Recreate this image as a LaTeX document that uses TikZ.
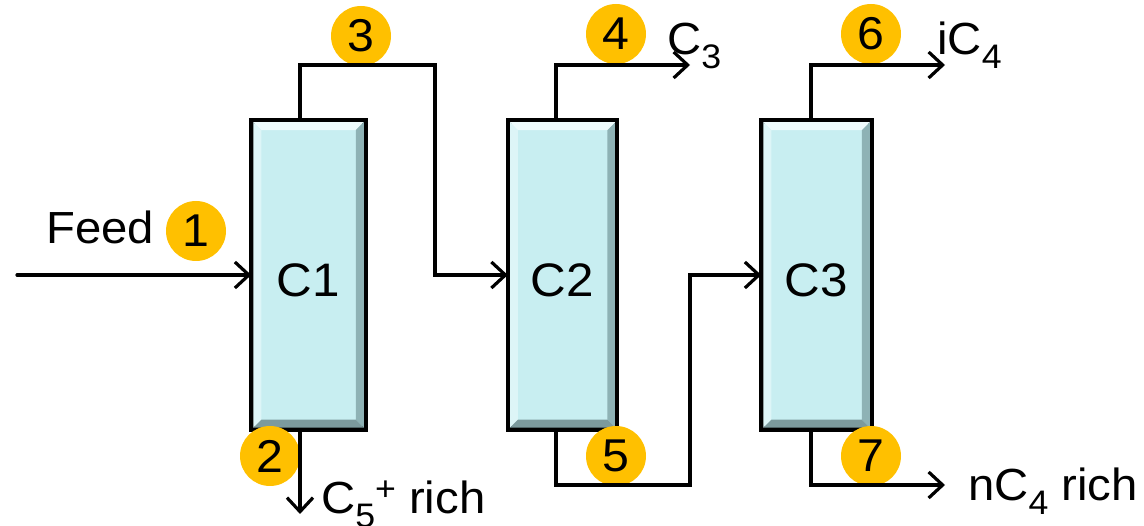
\documentclass[tikz,border=0pt]{standalone}
\usepackage{fontspec}
\setmainfont[FakeStretch=1.05]{Liberation Sans}
\usetikzlibrary{arrows.meta,calc}
\definecolor{colfill}{HTML}{C8EEF1}
\definecolor{bevtop}{HTML}{EEFBFC}
\definecolor{bevleft}{HTML}{DDF5F7}
\definecolor{bevright}{HTML}{8EB2B5}
\definecolor{bevbot}{HTML}{7C9A9D}
\definecolor{badge}{HTML}{FFC000}
\newcommand{\mysub}[1]{\raisebox{-0.3em}{\fontsize{34}{36}\selectfont #1}}
\newcommand{\mysup}[1]{\raisebox{0.3em}{\fontsize{34}{36}\selectfont #1}}
\tikzset{
  colbox/.style={rectangle, draw=black, line width=3.5pt, fill=colfill, inner sep=0pt,
    font=\fontsize{46}{50}\selectfont},
  badgec/.style={circle, fill=badge, minimum size=60pt, inner sep=0pt,
    font=\fontsize{46}{50}\selectfont},
  lbl/.style={inner sep=0pt, font=\fontsize{45}{50}\selectfont},
  flow/.style={line width=3.2pt, line cap=round, line join=miter},
  arr/.style={flow, -{Straight Barb[length=14pt,width=26pt]}}
}
\begin{document}
\begin{tikzpicture}[x=1pt,y=-1pt]
\useasboundingbox (0,0) rectangle (1144,526);
% columns
\node[colbox, minimum width=111pt, minimum height=306pt] (c1) at (308.5,275) {};
\node[colbox, minimum width=106pt, minimum height=306pt] (c2) at (562.5,275) {};
\node[colbox, minimum width=107pt, minimum height=306pt] (c3) at (816.5,275) {};
\foreach \n in {c1,c2,c3}{
  \coordinate (A) at ($(\n.north west)+(2,2)$);
  \coordinate (B) at ($(\n.north east)+(-2,2)$);
  \coordinate (C) at ($(\n.south east)+(-2,-2)$);
  \coordinate (D) at ($(\n.south west)+(2,-2)$);
  \coordinate (a) at ($(A)+(8,8)$);
  \coordinate (b) at ($(B)+(-8,8)$);
  \coordinate (c) at ($(C)+(-8,-8)$);
  \coordinate (d) at ($(D)+(8,-8)$);
  \fill[bevtop] (A) -- (B) -- (b) -- (a) -- cycle;
  \fill[bevleft] (A) -- (a) -- (d) -- (D) -- cycle;
  \fill[bevright] (B) -- (C) -- (c) -- (b) -- cycle;
  \fill[bevbot] (D) -- (d) -- (c) -- (C) -- cycle;
  \draw[black, line width=4pt] (\n.north west) rectangle (\n.south east);
}
\node[lbl, font=\fontsize{47}{50}\selectfont] (t1) at (308.5,280) {C1};
\node[lbl, font=\fontsize{47}{50}\selectfont] (t2) at (562.5,280) {C2};
\node[lbl, font=\fontsize{47}{50}\selectfont] (t3) at (816.5,280) {C3};
% badges
\node[badgec] (b1) at (196,231) {1};
\node[badgec] (b2) at (270,456) {2};
\node[badgec] (b3) at (361,36) {3};
\node[badgec] (b4) at (616,34) {4};
\node[badgec] (b5) at (616,456) {5};
\node[badgec] (b6) at (871,34) {6};
\node[badgec] (b7) at (871,456) {7};
% free ends
\coordinate (feedin) at (17,275);
\coordinate (out2) at (300,514);
\coordinate (out4) at (690,65);
\coordinate (out6) at (945,65);
\coordinate (out7) at (945,485);
% connectors
\draw[arr] (feedin) -- (c1.west);
\draw[arr] (c1.north -| 300,0) |- (435,65) |- (c2.west);
\draw[arr] (c1.south -| 300,0) -- (out2);
\draw[arr] (c2.north -| 556,0) |- (out4);
\draw[arr] (c2.south -| 556,0) |- (690,485) |- (c3.west);
\draw[arr] (c3.north -| 811,0) |- (out6);
\draw[arr] (c3.south -| 811,0) |- (out7);
% labels
\node[lbl, anchor=base west] (feed) at (46,244) {Feed};
\node[lbl, anchor=base west] (l4) at (667,55) {C\mysub{3}};
\node[lbl, anchor=base west] (l6) at (937,55) {iC\mysub{4}};
\node[lbl, anchor=base west] (l2) at (321,514) {C\mysub{5}\mysup{+} rich};
\node[lbl, anchor=base west] (l7) at (968,501) {nC\mysub{4} rich};
\end{tikzpicture}
\end{document}
